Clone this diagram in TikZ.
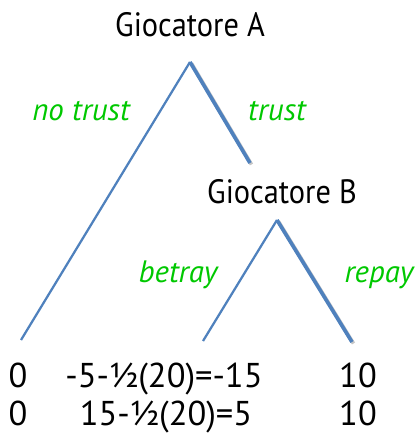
\documentclass[tikz,border=0pt]{standalone}
\usepackage{fontspec}
\setmainfont{PT Sans}
\newfontfamily\narrowsans[FakeStretch=0.9]{PT Sans}
\usepackage{tikz}

\begin{document}
\begin{tikzpicture}[x=0.025cm, y=-0.025cm, every node/.style={font=\fontsize{24.5}{28}\selectfont,inner sep=0pt,anchor=base},
  branch/.style={color={rgb,255:red,79;green,129;blue,189}, line width=1.6pt},
  thick branch/.style={color={rgb,255:red,79;green,129;blue,189}, line width=2.6pt},
  shade/.style={color=gray!45, line width=2.6pt},
  player/.style={font=\fontsize{24}{28}\narrowsans},
  move/.style={text={rgb,255:red,0;green,200;blue,0}, font=\fontsize{22}{26}\selectfont\itshape}]
\useasboundingbox (0,0) rectangle (418,435);
\node[player] (plA) at (190,36) {Giocatore A};
\node[player] (plB) at (282,203) {Giocatore B};
\coordinate (rootA) at (190,62);
\coordinate (rootB) at (277,220);
\coordinate (endA) at (250,163);
\coordinate (leaf1) at (21,340);
\coordinate (leaf2) at (203,341);
\coordinate (leaf3) at (352,342);
\draw[shade] ([shift={(1.5,1.5)}]rootA) -- ([shift={(1.5,1.5)}]endA);
\draw[shade] ([shift={(1.5,1.5)}]rootB) -- ([shift={(1.5,1.5)}]leaf3);
\draw[branch] (rootA) -- (leaf1);
\draw[thick branch] (rootA) -- (endA);
\draw[branch] (rootB) -- (leaf2);
\draw[thick branch] (rootB) -- (leaf3);
\node[move] (notrust) at (81,120) {no trust};
\node[move] (trust) at (277,120) {trust};
\node[move] (betray) at (178,282) {betray};
\node[move] (repay) at (379,282) {repay};
\node (a1) at (18,387) {0};
\node (b1) at (164,387) {-5-½(20)=-15};
\node (c1) at (358,387) {10};
\node (a2) at (18,425) {0};
\node (b2) at (166,425) {15-½(20)=5};
\node (c2) at (358,425) {10};
\end{tikzpicture}
\end{document}
